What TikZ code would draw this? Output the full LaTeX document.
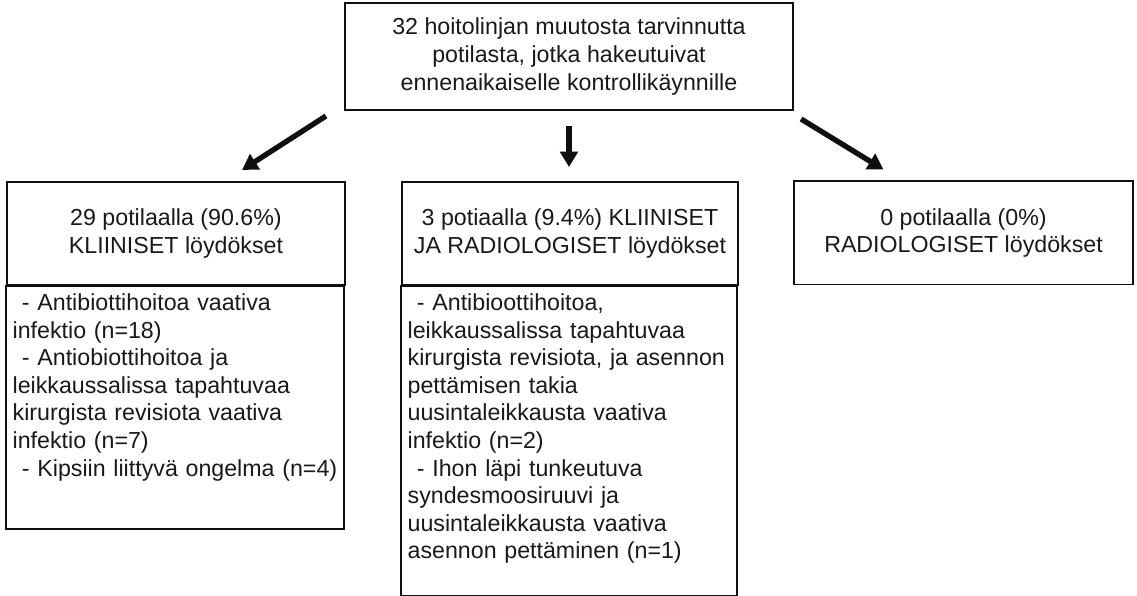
\documentclass[tikz,border=0pt]{standalone}
\usepackage{fontspec}
\setmainfont{Liberation Sans}
\definecolor{FrameBlack}{RGB}{15, 15, 15}
\definecolor{TextBlack}{RGB}{25, 25, 25}
\usetikzlibrary{arrows.meta, calc}

\begin{document}
\begin{tikzpicture}[x=0.025cm, y=-0.025cm,
    every node/.style={font=\fontsize{16.5pt}{19.6pt}\selectfont, text=TextBlack},
    headbox/.style={draw=FrameBlack, line width=1.4pt, align=center, inner sep=0pt, minimum height=2.575cm},
    frame/.style={draw=FrameBlack, line width=1.4pt},
    listtext/.style={align=left, anchor=north west, inner xsep=0.16cm, inner ysep=0.19cm, text width=8.6cm},
    flow/.style={-{Triangle[length=11pt, width=12.5pt]}, line width=3.8pt, color=FrameBlack}]
        \useasboundingbox (0,0) rectangle (1137,596);

        % Top box
        \node[headbox, minimum width=11.2cm, minimum height=2.675cm] (top) at (569,56.5)
            {32 hoitolinjan muutosta tarvinnutta\\potilasta, jotka hakeutuivat\\ennenaikaiselle kontrollikäynnille};

        % Result boxes
        \node[headbox, minimum width=8.45cm] (kliin) at (176,233.5)
            {29 potilaalla (90.6\%)\\KLIINISET löydökset};
        \node[headbox, minimum width=8.4cm] (dual) at (570,233.5)
            {3 potiaalla (9.4\%) KLIINISET\\JA RADIOLOGISET löydökset};
        \node[headbox, minimum width=8.475cm] (radio) at (963.5,233)
            {0 potilaalla (0\%)\\RADIOLOGISET löydökset};

        % Lists under the boxes
        \draw[frame] (kliin.south west) rectangle ++(338,243);
        \node[listtext] (kliinlist) at (kliin.south west)
            {\hspace*{0.4em}- Antibiottihoitoa vaativa\\infektio (n=18)\\
             \hspace*{0.4em}- Antiobiottihoitoa ja\\leikkaussalissa tapahtuvaa\\kirurgista revisiota vaativa\\infektio (n=7)\\
             \hspace*{0.4em}- Kipsiin liittyvä ongelma (n=4)};
        \draw[frame] (dual.south west) rectangle ++(336,310);
        \node[listtext] (duallist) at (dual.south west)
            {\hspace*{0.4em}- Antibioottihoitoa,\\leikkaussalissa tapahtuvaa\\kirurgista revisiota, ja asennon\\pettämisen takia\\uusintaleikkausta vaativa\\infektio (n=2)\\
             \hspace*{0.4em}- Ihon läpi tunkeutuva\\syndesmoosiruuvi ja\\uusintaleikkausta vaativa\\asennon pettäminen (n=1)};

        % Arrows
        \draw[flow] ($(top.south west)+(-18,5)$) -- ($(kliin.north)+(66,-11)$);
        \draw[flow] ($(top.south)+(0,15)$) -- ($(top.south |- dual.north)+(0,-14)$);
        \draw[flow] ($(top.south east)+(7,8)$) -- ($(radio.north)+(-80,-11)$);
    \end{tikzpicture}
\end{document}
